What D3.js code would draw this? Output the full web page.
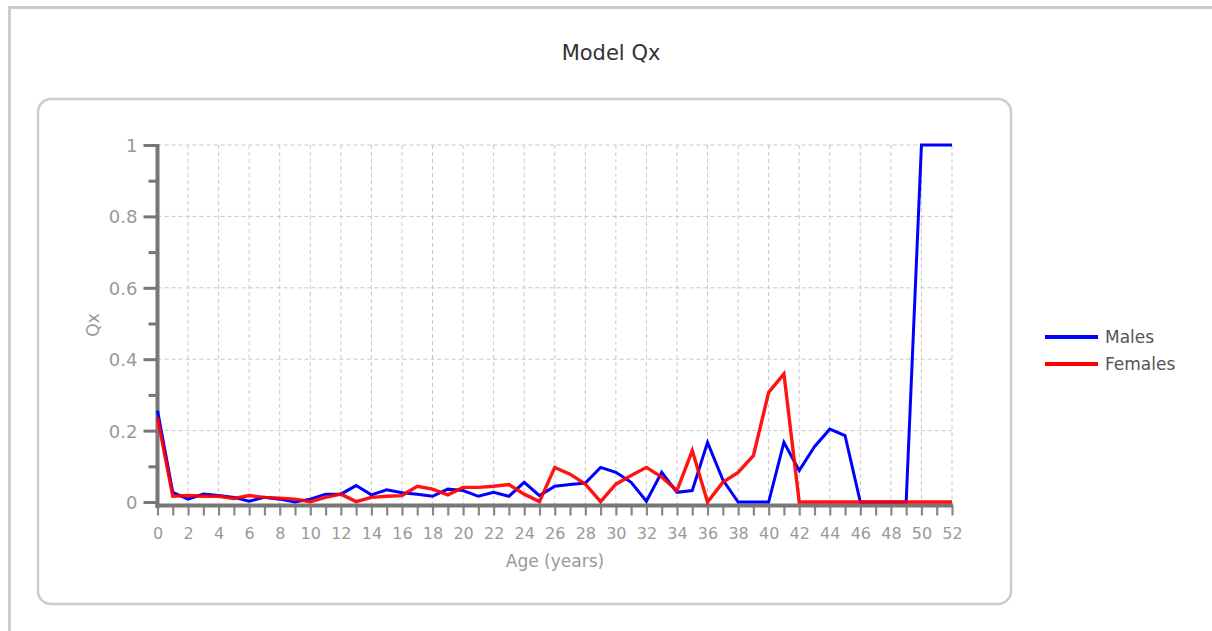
<!DOCTYPE html>
<html>
<head>
<meta charset="utf-8">
<script src="https://cdn.jsdelivr.net/npm/d3@7"></script>
<style>
  body { margin: 0; background: #fff; }
  svg { display: block; }
</style>
</head>
<body>
<svg id="chart" width="1212" height="631"></svg>
<script>
// DATA
const ages = [0, 1, 2, 3, 4, 5, 6, 7, 8, 9, 10, 11, 12, 13, 14, 15, 16, 17, 18, 19, 20,
  21, 22, 23, 24, 25, 26, 27, 28, 29, 30, 31, 32, 33, 34, 35, 36, 37, 38, 39, 40,
  41, 42, 43, 44, 45, 46, 47, 48, 49, 50, 51, 52];

const males = [0.256, 0.027, 0.008, 0.022, 0.018, 0.013, 0.002, 0.013, 0.008, 0.0,
  0.008, 0.022, 0.022, 0.046, 0.02, 0.034, 0.026, 0.022, 0.016, 0.036,
  0.032, 0.016, 0.027, 0.016, 0.055, 0.018, 0.044, 0.049, 0.053, 0.097,
  0.083, 0.055, 0.002, 0.083, 0.027, 0.032, 0.167, 0.062, 0.0, 0.0,
  0.0, 0.167, 0.088, 0.155, 0.204, 0.186, 0.0, 0.0, 0.0, 0.0,
  1.0, 1.0, 1.0];

const females = [0.237, 0.016, 0.018, 0.016, 0.016, 0.01, 0.018, 0.013, 0.011, 0.008,
  0.001, 0.013, 0.022, 0.001, 0.013, 0.016, 0.018, 0.044, 0.036, 0.02,
  0.041, 0.041, 0.044, 0.049, 0.022, 0.001, 0.097, 0.078, 0.05, 0.001,
  0.05, 0.074, 0.097, 0.07, 0.032, 0.144, 0.0, 0.055, 0.083, 0.13,
  0.307, 0.359, 0.0, 0.0, 0.0, 0.0, 0.0, 0.0, 0.0, 0.0,
  0.0, 0.0, 0.0];

const series = [
  { name: "Males", values: males, color: "#0000ff", width: 3 },
  { name: "Females", values: females, color: "#ff0000", width: 3.4 },
];

const xTickLabels = [0, 2, 4, 6, 8, 10, 12, 14, 16, 18, 20, 22, 24, 26, 28, 30,
  32, 34, 36, 38, 40, 42, 44, 46, 48, 50, 52];
const yTickLabels = [0, 0.2, 0.4, 0.6, 0.8, 1];

// CANVAS SETUP
const svg = d3.select("#chart");
const font = "'DejaVu Sans', Verdana, sans-serif";

let plot = { left: 157.5, right: 952, top: 145, bottom: 502 };

// outer frame + inner rounded box
svg.append("path")
  .attr("d", "M9.5,640 L9.5,7.5 L1230,7.5")
  .attr("fill", "none")
  .attr("stroke", "#cccccc")
  .attr("stroke-width", 3);

svg.append("rect")
  .attr("x", 38)
  .attr("y", 99)
  .attr("width", 973)
  .attr("height", 505)
  .attr("rx", 13)
  .attr("fill", "none")
  .attr("stroke", "#cccccc")
  .attr("stroke-width", 2.5);

svg.append("text")
  .attr("x", 611)
  .attr("y", 60)
  .attr("text-anchor", "middle")
  .attr("font-family", font)
  .attr("font-size", 21)
  .attr("fill", "#333")
  .text("Model Qx");

// SCALES
const xScale = d3.scaleLinear().domain([0, 52]).range([plot.left, plot.right]);
const yScale = d3.scaleLinear().domain([0, 1]).range([plot.bottom, plot.top]);

// GRID
const grid = svg.append("g").attr("stroke", "#c8c8c8").attr("stroke-dasharray", "4,3");

grid.selectAll("line.v")
  .data(xTickLabels.filter((d) => d > 0))
  .join("line")
  .attr("class", "v")
  .attr("x1", (d) => xScale(d))
  .attr("x2", (d) => xScale(d))
  .attr("y1", plot.top)
  .attr("y2", plot.bottom + 2);

grid.selectAll("line.h")
  .data(yTickLabels.filter((d) => d > 0))
  .join("line")
  .attr("class", "h")
  .attr("x1", plot.left)
  .attr("x2", plot.right)
  .attr("y1", (d) => yScale(d))
  .attr("y2", (d) => yScale(d));

// AXES
const yAxis = svg.append("g").attr("transform", `translate(${plot.left},0)`);
yAxis.call(
  d3.axisLeft(yScale)
    .tickValues(d3.range(0, 1.01, 0.1))
    .tickSize(0)
    .tickFormat("")
);
yAxis.select(".domain").remove();
yAxis.selectAll(".tick line").remove();
yAxis.selectAll(".tick")
  .append("line")
  .attr("x1", (d, i) => (i % 2 === 0 ? -14 : -9))
  .attr("x2", 0)
  .attr("stroke", "#777")
  .attr("stroke-width", 3);
yAxis.selectAll(".tick")
  .filter((d, i) => i % 2 === 0)
  .append("text")
  .attr("x", -20)
  .attr("dy", "0.36em")
  .attr("text-anchor", "end")
  .attr("font-family", font)
  .attr("font-size", 18)
  .attr("fill", "#999")
  .text((d) => d3.format("~g")(+d.toFixed(1)));

const xAxis = svg.append("g").attr("transform", `translate(0,${plot.bottom + 3.5})`);
xAxis.call(
  d3.axisBottom(xScale)
    .tickValues(ages)
    .tickSize(0)
    .tickFormat("")
);
xAxis.select(".domain").remove();
xAxis.selectAll(".tick")
  .append("line")
  .attr("y1", 0)
  .attr("y2", 10)
  .attr("stroke", "#888")
  .attr("stroke-width", 2.2);
xAxis.selectAll(".tick")
  .filter((d) => xTickLabels.includes(d))
  .append("text")
  .attr("y", 33)
  .attr("text-anchor", "middle")
  .attr("font-family", font)
  .attr("font-size", 16)
  .attr("fill", "#999")
  .text((d) => d);

// axis lines
svg.append("line")
  .attr("x1", plot.left)
  .attr("x2", plot.left)
  .attr("y1", plot.top - 1)
  .attr("y2", plot.bottom + 6)
  .attr("stroke", "#777")
  .attr("stroke-width", 4);
svg.append("line")
  .attr("x1", plot.left - 2)
  .attr("x2", plot.right + 1)
  .attr("y1", plot.bottom + 3.5)
  .attr("y2", plot.bottom + 3.5)
  .attr("stroke", "#777")
  .attr("stroke-width", 4);

svg.append("text")
  .attr("x", 555)
  .attr("y", 567)
  .attr("text-anchor", "middle")
  .attr("font-family", font)
  .attr("font-size", 17)
  .attr("fill", "#999")
  .text("Age (years)");

svg.append("text")
  .attr("transform", "translate(99,325) rotate(-90)")
  .attr("text-anchor", "middle")
  .attr("font-family", font)
  .attr("font-size", 17)
  .attr("fill", "#999")
  .text("Qx");

// RENDER LINES
const line = d3.line()
  .x((d, i) => xScale(ages[i]))
  .y((d) => yScale(d));

svg.append("g")
  .selectAll("path")
  .data(series)
  .join("path")
  .attr("d", (d) => line(d.values))
  .attr("fill", "none")
  .attr("stroke", (d) => d.color)
  .attr("stroke-width", (d) => d.width)
  .attr("stroke-linejoin", "miter")
  .attr("stroke-opacity", (d, i) => (i === 1 ? 0.92 : 1));

// LEGEND
const legend = svg.append("g")
  .selectAll("g")
  .data(series)
  .join("g")
  .attr("transform", (d, i) => `translate(1045,${337 + i * 27})`);

legend.append("line")
  .attr("x1", 0)
  .attr("x2", 53)
  .attr("stroke", (d) => d.color)
  .attr("stroke-width", 4);

legend.append("text")
  .attr("x", 60)
  .attr("dy", "0.36em")
  .attr("font-family", font)
  .attr("font-size", 17)
  .attr("fill", "#555")
  .text((d) => d.name);
</script>
</body>
</html>
